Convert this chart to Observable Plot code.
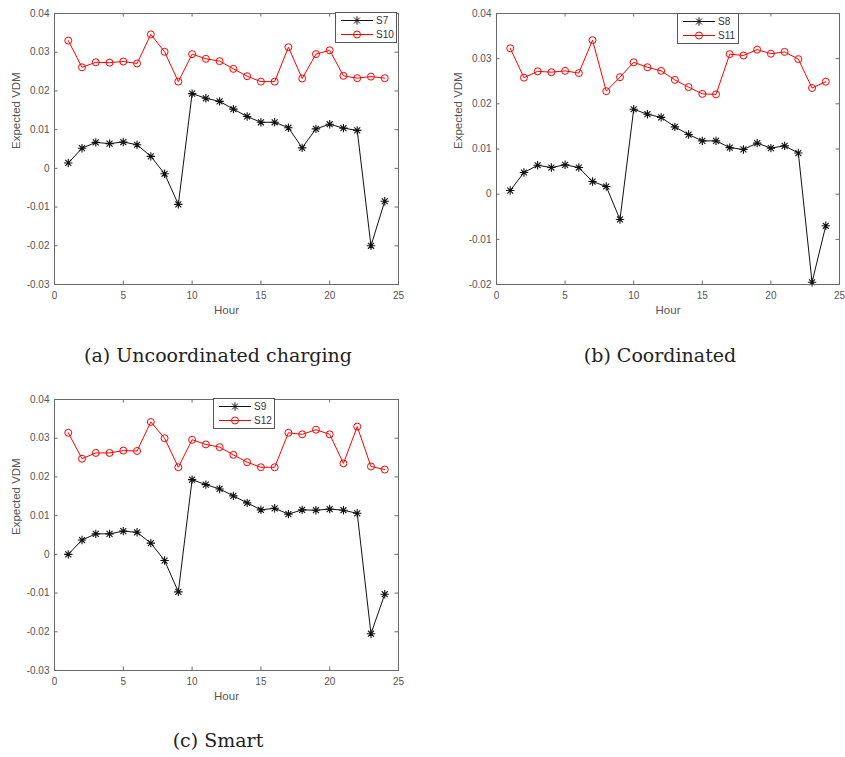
<!DOCTYPE html>
<html><head><meta charset="utf-8">
<script src="https://cdn.jsdelivr.net/npm/d3@7"></script>
<script src="https://cdn.jsdelivr.net/npm/@observablehq/plot@0.6"></script>
<style>
body{margin:0;background:#fff}
#fig{position:relative;width:845px;height:757px;background:#fff;overflow:hidden}
.panel{position:absolute}
.panel svg{display:block}
.legend{position:absolute}
.cap{position:absolute;font-family:"DejaVu Serif",serif;font-size:19px;line-height:19px;color:#222;white-space:nowrap;transform:translateX(-50%)}
</style>
</head><body>
<div id="fig"></div>
<script>
// ---------- data ----------
const hours = [1,2,3,4,5,6,7,8,9,10,11,12,13,14,15,16,17,18,19,20,21,22,23,24];
const xTicks = [0,5,10,15,20,25];
const yTicksAC = [-0.03,-0.02,-0.01,0,0.01,0.02,0.03,0.04];
const yTicksB = [-0.02,-0.01,0,0.01,0.02,0.03,0.04];

const S7  = [0.0014,0.0052,0.0067,0.0064,0.0068,0.0061,0.0031,-0.0014,-0.0093,0.0193,0.0181,0.0173,0.0153,0.0134,0.0119,0.0119,0.0105,0.0053,0.0102,0.0114,0.0104,0.0098,-0.0200,-0.0085];
const S10 = [0.0330,0.0261,0.0274,0.0273,0.0276,0.0271,0.0346,0.0301,0.0224,0.0295,0.0283,0.0277,0.0257,0.0238,0.0224,0.0224,0.0313,0.0232,0.0295,0.0305,0.0239,0.0233,0.0237,0.0233];
const S8  = [0.0008,0.0048,0.0064,0.0059,0.0065,0.0059,0.0028,0.0017,-0.0056,0.0188,0.0177,0.0170,0.0149,0.0132,0.0118,0.0118,0.0103,0.0099,0.0113,0.0102,0.0107,0.0091,-0.0195,-0.0070];
const S11 = [0.0323,0.0258,0.0272,0.0270,0.0273,0.0268,0.0341,0.0228,0.0259,0.0292,0.0281,0.0273,0.0253,0.0237,0.0222,0.0221,0.0310,0.0307,0.0320,0.0311,0.0315,0.0299,0.0235,0.0249];
const S9  = [0.0000,0.0037,0.0053,0.0053,0.0060,0.0057,0.0029,-0.0016,-0.0097,0.0193,0.0180,0.0169,0.0151,0.0133,0.0115,0.0119,0.0104,0.0115,0.0114,0.0117,0.0114,0.0106,-0.0205,-0.0103];
const S12 = [0.0314,0.0247,0.0262,0.0262,0.0268,0.0267,0.0342,0.0300,0.0225,0.0296,0.0284,0.0277,0.0257,0.0238,0.0225,0.0225,0.0314,0.0310,0.0322,0.0310,0.0235,0.0330,0.0227,0.0219];

const captions = ["(a) Uncoordinated charging", "(b) Coordinated", "(c) Smart"];
const xLabel = "Hour";
const yLabel = "Expected VDM";

// ---------- helpers ----------
const star8 = {
  draw(ctx, size) {
    const r = Math.sqrt(size / Math.PI);
    for (let k = 0; k < 4; k++) {
      const a = k * Math.PI / 4;
      const c = Math.cos(a) * r, s = Math.sin(a) * r;
      ctx.moveTo(c, s); ctx.lineTo(-c, -s);
    }
  }
};
const fmtY = d => d === 0 ? "0" : d.toFixed(2);
const AXC = "#6a6a6a";
const TXT = "#555";

const fig = document.getElementById("fig");

function panel(cfg) {
  const {left, top, width, height, ml, mr, mt, mb, yDomain, yTicks, blackVals, redVals, names, legend} = cfg;
  const W = width - ml - mr, H = height - mt - mb;
  const black = hours.map((h, i) => ({h, v: blackVals[i]}));
  const red = hours.map((h, i) => ({h, v: redVals[i]}));
  const tl = 3.5;
  const p = Plot.plot({
    width, height,
    marginLeft: ml, marginRight: mr, marginTop: mt, marginBottom: mb,
    x: {domain: [0, 25], label: null},
    y: {domain: yDomain, label: null},
    style: {fontFamily: "'Liberation Sans', Arial, sans-serif", color: TXT, background: "white", overflow: "visible"},
    marks: [
      Plot.axisX(xTicks, {tickSize: 0, tickPadding: 7, fontSize: 10, tickFormat: d => String(d), label: null}),
      Plot.axisY(yTicks, {tickSize: 0, tickPadding: 5, fontSize: 10, tickFormat: fmtY, label: null}),
      Plot.tickX(xTicks, {x: d => d, stroke: AXC, insetTop: H - tl}),
      Plot.tickX(xTicks, {x: d => d, stroke: AXC, insetBottom: H - tl}),
      Plot.tickY(yTicks, {y: d => d, stroke: AXC, insetRight: W - tl}),
      Plot.tickY(yTicks, {y: d => d, stroke: AXC, insetLeft: W - tl}),
      Plot.line(red, {x: "h", y: "v", stroke: "#ff0000", strokeWidth: 1}),
      Plot.line(black, {x: "h", y: "v", stroke: "#111", strokeWidth: 1}),
      Plot.dot(red, {x: "h", y: "v", r: 3.5, stroke: "#ff0000", fill: "none", strokeWidth: 1}),
      Plot.dot(black, {x: "h", y: "v", r: 4.2, symbol: star8, stroke: "#111", fill: "none", strokeWidth: 1.1}),
      Plot.frame({stroke: AXC}),
      Plot.text([xLabel], {frameAnchor: "bottom", dy: 29, fontSize: 11.5, fill: TXT}),
      Plot.text([yLabel], {frameAnchor: "left", dx: -38, rotate: -90, fontSize: 11.5, fill: TXT})
    ]
  });
  const div = document.createElement("div");
  div.className = "panel";
  div.style.left = left + "px"; div.style.top = top + "px";
  div.appendChild(p);
  fig.appendChild(div);

  // legend box (inside the axes, MATLAB style)
  const lw = 62, lh = 31;
  const svg = d3.create("svg").attr("width", lw).attr("height", lh)
    .attr("class", "legend")
    .style("left", (legend[0] - left) + "px").style("top", (legend[1] - top) + "px")
    .style("position", "absolute");
  svg.append("rect").attr("x", 0.5).attr("y", 0.5).attr("width", lw - 1).attr("height", lh - 1)
    .attr("fill", "white").attr("stroke", "#555");
  const rows = [
    {name: names[0], color: "#111", sym: star8, r: 4.2, y: 8.5},
    {name: names[1], color: "#ff0000", sym: d3.symbolCircle, r: 3.5, y: 22.5}
  ];
  for (const row of rows) {
    svg.append("line").attr("x1", 6).attr("x2", 38).attr("y1", row.y).attr("y2", row.y)
      .attr("stroke", row.color).attr("stroke-width", 1);
    svg.append("path").attr("d", d3.symbol(row.sym, row.r * row.r * Math.PI)())
      .attr("transform", `translate(22,${row.y})`).attr("fill", "none").attr("stroke", row.color);
    svg.append("text").attr("x", 41).attr("y", row.y).attr("dy", "0.35em")
      .attr("font-family", "'Liberation Sans', Arial, sans-serif").attr("font-size", 10)
      .attr("fill", "#333").text(row.name);
  }
  div.appendChild(svg.node());
}

panel({left: 0, top: 0, width: 420, height: 330, ml: 54, mr: 22, mt: 13, mb: 46,
  yDomain: [-0.03, 0.04], yTicks: yTicksAC, blackVals: S7, redVals: S10, names: ["S7", "S10"], legend: [335, 12]});
panel({left: 440, top: 0, width: 405, height: 330, ml: 56, mr: 6, mt: 13, mb: 46,
  yDomain: [-0.02, 0.04], yTicks: yTicksB, blackVals: S8, redVals: S11, names: ["S8", "S11"], legend: [677, 13]});
panel({left: 0, top: 386, width: 420, height: 330, ml: 54, mr: 22, mt: 13, mb: 46,
  yDomain: [-0.03, 0.04], yTicks: yTicksAC, blackVals: S9, redVals: S12, names: ["S9", "S12"], legend: [213, 398]});

const capPos = [[218, 346], [660, 346], [218, 731]];
captions.forEach((c, i) => {
  const d = document.createElement("div");
  d.className = "cap";
  d.style.left = capPos[i][0] + "px"; d.style.top = capPos[i][1] + "px";
  d.textContent = c;
  fig.appendChild(d);
});
</script>
</body></html>
